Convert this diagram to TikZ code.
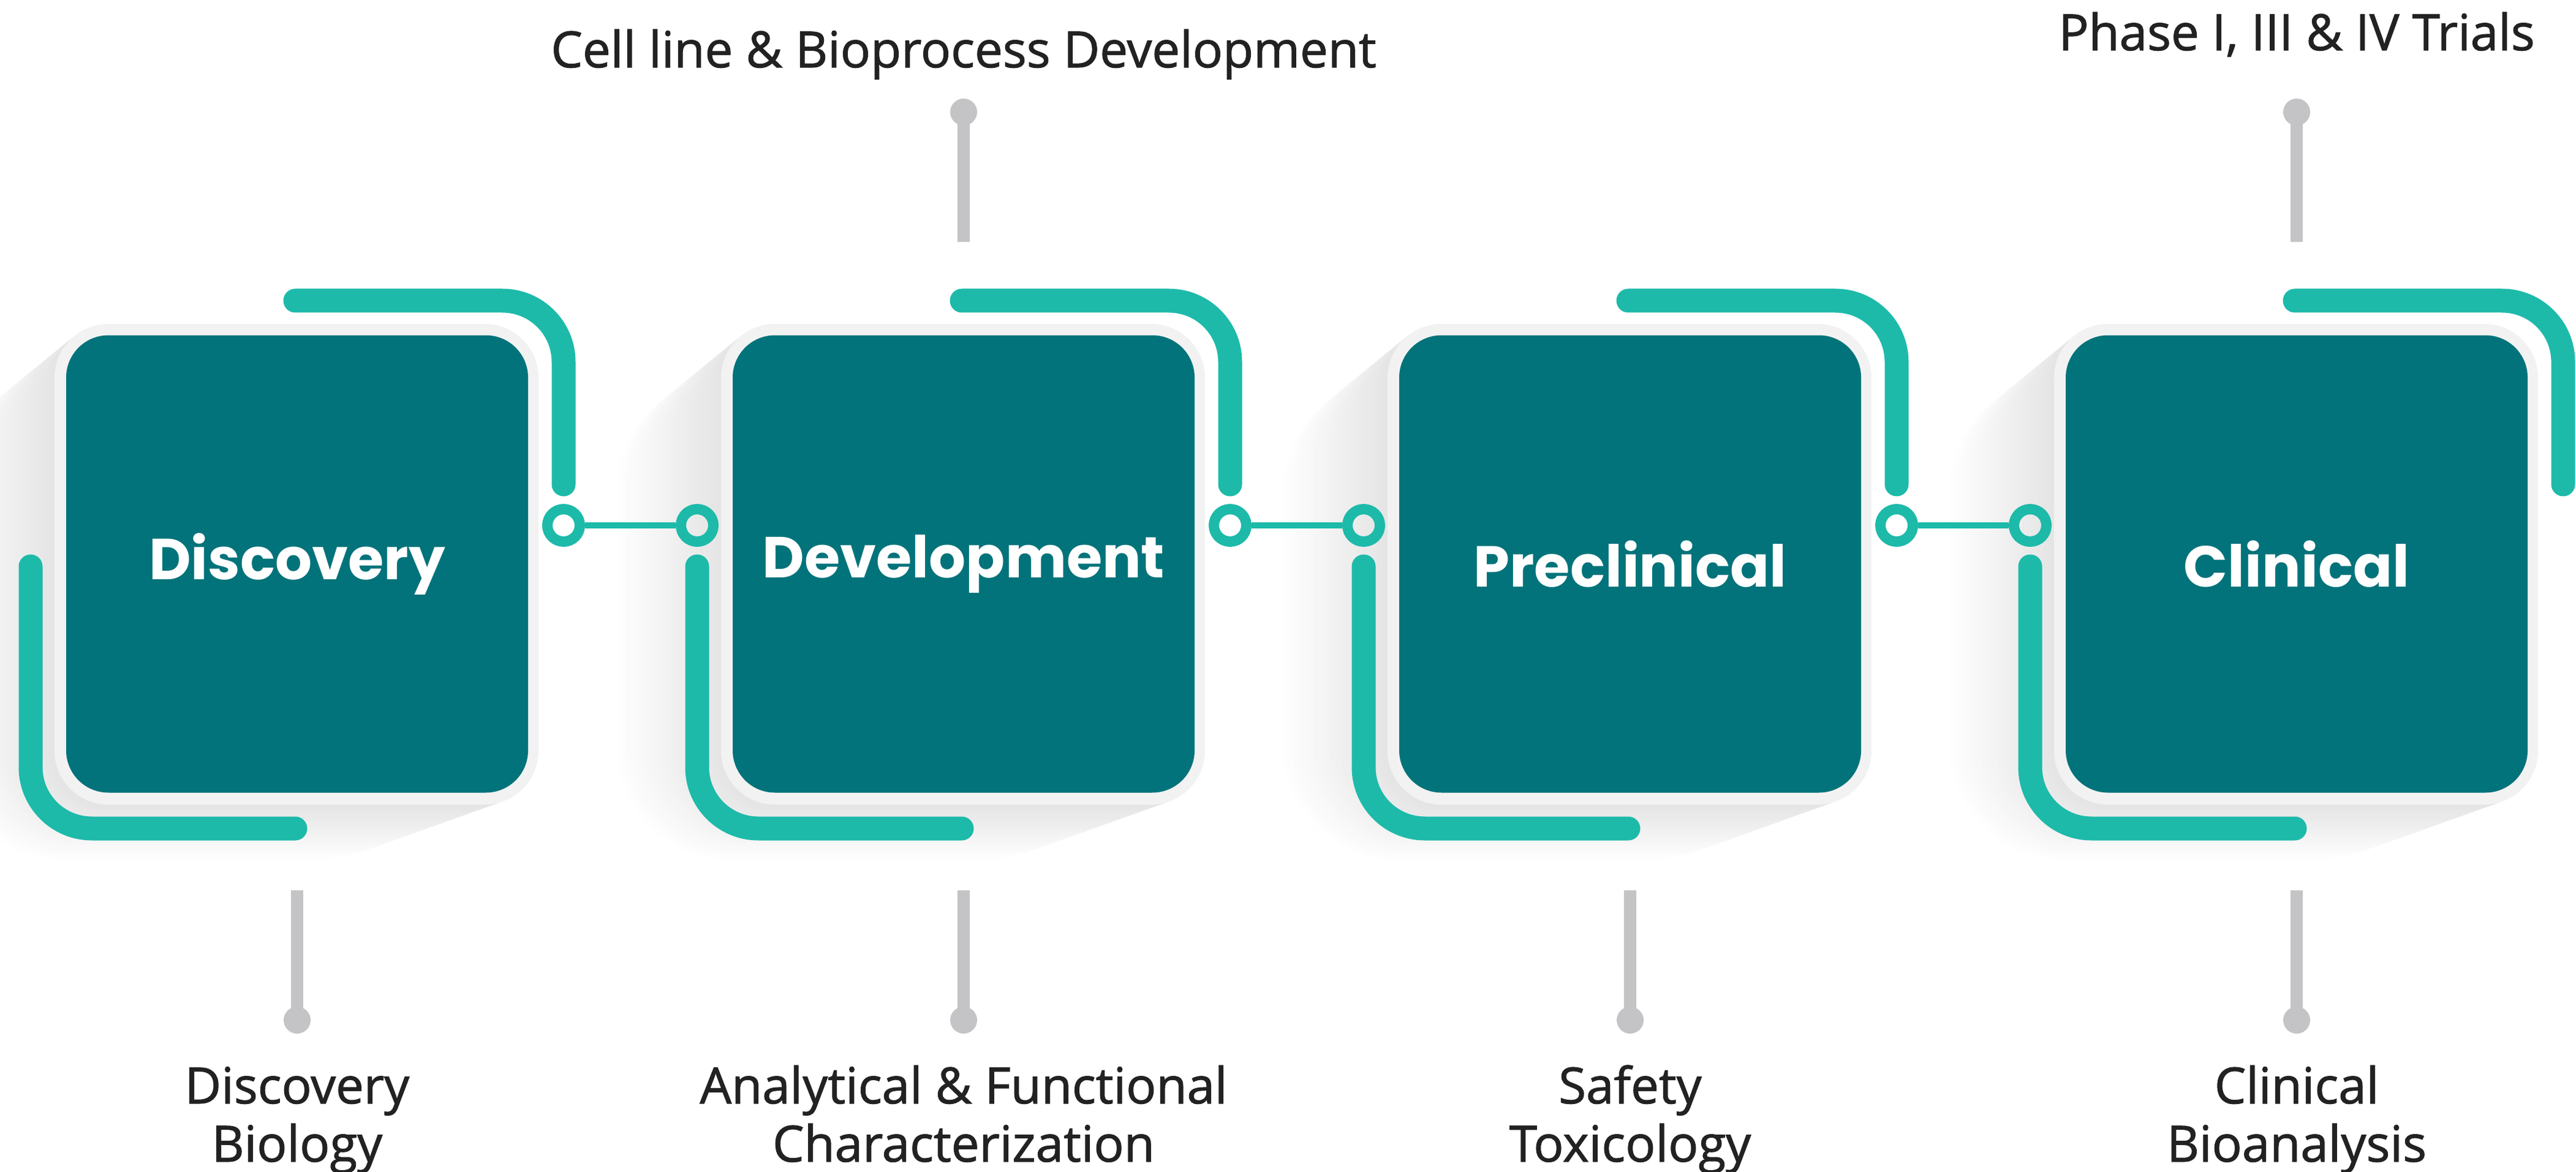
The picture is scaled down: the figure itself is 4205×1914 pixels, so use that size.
\documentclass[tikz,border=0pt]{standalone}
\usepackage{fontspec}
\setmainfont{Open Sans}[FakeBold=1.3]
\newfontfamily\boxfont{Poppins}
\definecolor{boxteal}{HTML}{02737A}
\definecolor{bracketteal}{HTML}{1DBAAA}
\definecolor{stemgray}{HTML}{C4C4C6}
\definecolor{bordergray}{HTML}{F2F2F2}
\definecolor{labeltext}{HTML}{222222}
\begin{document}
\begin{tikzpicture}[x=0.25pt,y=-0.25pt,
  stagebox/.style={rounded corners=17.25pt, fill=boxteal, text=white,
    minimum width=188.5pt, minimum height=186.75pt, inner sep=0pt,
    font=\boxfont\bfseries\fontsize{23.6pt}{28pt}\selectfont},
  bracket/.style={draw=bracketteal, line width=9.75pt, line cap=round, rounded corners=25pt},
  ring/.style={circle, draw=bracketteal, line width=4.25pt, minimum size=13.25pt, inner sep=0pt},
  link/.style={draw=bracketteal, line width=2.5pt},
  dot/.style={circle, fill=stemgray, minimum size=11pt, inner sep=0pt},
  stemline/.style={draw=stemgray, line width=5pt},
  label/.style={text=labeltext, font=\fontsize{20.4pt}{23.75pt}\selectfont, align=center, anchor=base, inner sep=0pt}
]
\useasboundingbox (0,0) rectangle (4205,1914);
% long shadows
\foreach \c in {485,1573,2661,3749}{
  \foreach \k in {20,...,1}{
    \pgfmathsetmacro\pct{0.3+10*(20-\k)/19}
    \pgfmathsetmacro\rad{22+1.2*\k}
    \fill[black!\pct, rounded corners=\rad pt]
      ({\c-396-8.6*\k},{529+4.5*\k}) rectangle ({\c+394-8.6*\k},{1314+4.5*\k});
  }
}
% borders
\foreach \c in {485,1573,2661,3749}{
  \fill[bordergray, rounded corners=22pt] ({\c-396},529) rectangle ({\c+394},1314);
}
% boxes
\node[stagebox] (b1) at (485,921) {Discovery};
\node[stagebox] (b2) at (1573,921) {Development};
\node[stagebox] (b3) at (2661,921) {Preclinical};
\node[stagebox] (b4) at (3749,921) {Clinical};
% brackets
\foreach \c in {485,1573,2661,3749}{
  \draw[bracket] ({\c-3},491) -- ({\c+435},491) -- ({\c+435},791);
  \draw[bracket] ({\c-435},925) -- ({\c-435},1353) -- ({\c-3},1353);
}
% ring connectors
\node[ring] (r1a) at (920,858) {};
\node[ring] (r1b) at (1138,858) {};
\node[ring] (r2a) at (2008,858) {};
\node[ring] (r2b) at (2226,858) {};
\node[ring] (r3a) at (3096,858) {};
\node[ring] (r3b) at (3314,858) {};
\draw[link] (r1a) -- (r1b);
\draw[link] (r2a) -- (r2b);
\draw[link] (r3a) -- (r3b);
% top stems
\node[dot] (d2t) at (1573,183) {};
\coordinate (e2t) at (1573,395);
\draw[stemline] (d2t.center) -- (e2t);
\node[dot] (d4t) at (3749,183) {};
\coordinate (e4t) at (3749,395);
\draw[stemline] (d4t.center) -- (e4t);
% bottom stems
\foreach \c/\n in {485/1,1573/2,2661/3,3749/4}{
  \coordinate (e\n b) at (\c,1454);
  \node[dot] (d\n b) at (\c,1666) {};
  \draw[stemline] (e\n b) -- (d\n b.center);
}
% labels
\node[label] (l2t) at (1573,110) {Cell line \& Bioprocess Development};
\node[label] (l4t) at (3749,82) {Phase I, III \& IV Trials};
\node[label] (l1b) at (485,1897) {Discovery\\Biology};
\node[label] (l2b) at (1573,1897) {Analytical \& Functional\\Characterization};
\node[label] (l3b) at (2661,1897) {Safety\\Toxicology};
\node[label] (l4b) at (3749,1897) {Clinical\\Bioanalysis};
\end{tikzpicture}
\end{document}
